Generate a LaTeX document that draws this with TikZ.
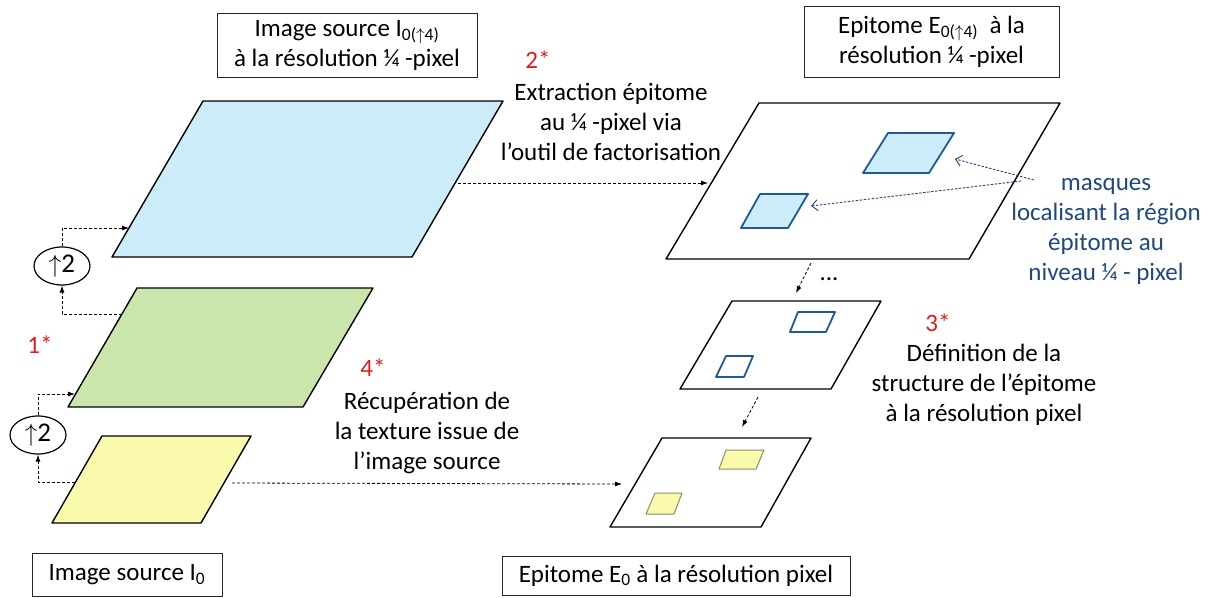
\documentclass[tikz,border=0pt]{standalone}
\usepackage{fontspec}
\setmainfont{Carlito}
\usetikzlibrary{shapes.geometric,arrows.meta}
\definecolor{planeblue}{RGB}{204,236,250}
\definecolor{planegreen}{RGB}{202,230,172}
\definecolor{planeyellow}{RGB}{250,250,172}
\definecolor{maskblue}{RGB}{31,90,150}
\definecolor{textblue}{RGB}{31,73,125}
\definecolor{starred}{RGB}{220,30,30}
\definecolor{sqyellowedge}{RGB}{140,140,100}
\begin{document}
\begin{tikzpicture}[x=1pt,y=-1pt,
  plane/.style={draw=black,line width=1.4pt,line join=round},
  masksq/.style={draw=maskblue,line width=1.8pt,line join=round},
  yelsq/.style={draw=sqyellowedge,fill=planeyellow,line width=1pt,line join=round},
  txt/.style={font=\fontsize{25}{30}\selectfont,align=center,inner sep=0pt},
  titlebox/.style={draw=black!85,line width=1pt,font=\fontsize{25}{30}\selectfont,align=center,inner sep=0pt},
  star/.style={font=\fontsize{25}{30}\selectfont,text=starred,inner sep=0pt},
  updot/.style={draw=black,ellipse,line width=1.2pt,minimum width=56pt,minimum height=38pt,inner sep=0pt,font=\fontsize{27}{30}\selectfont},
  conn/.style={draw=black,line width=0.8pt,dash pattern=on 3pt off 2pt,-{Latex[length=7pt,width=5pt]}},
  maskarrow/.style={draw=textblue,line width=0.9pt,dash pattern=on 2.5pt off 1.5pt,-{Straight Barb[length=6pt,width=11pt]}}]
\useasboundingbox (0,0) rectangle (1206,597);

% planes, left column
\draw[plane,fill=planeblue] (203,101) -- (503,101) -- (412,257) -- (112,257) -- cycle;
\draw[plane,fill=planegreen] (137,288) -- (373,288) -- (303,407) -- (68,407) -- cycle;
\draw[plane,fill=planeyellow] (102,436) -- (251,436) -- (201,523) -- (52,523) -- cycle;

% planes, right column
\draw[plane,fill=white] (759,103) -- (1060,103) -- (969,259) -- (666,259) -- cycle;
\draw[plane,fill=white] (732,301) -- (881,301) -- (831,389) -- (680,389) -- cycle;
\draw[plane,fill=white] (662,438) -- (811,438) -- (761,527) -- (610,527) -- cycle;

% masks
\draw[masksq,fill=planeblue] (888,133) -- (954,133) -- (929,173) -- (863,173) -- cycle;
\draw[masksq,fill=planeblue] (760,194) -- (808,194) -- (788,228) -- (741,228) -- cycle;
\draw[masksq] (798,312) -- (835,312) -- (826,332) -- (790,332) -- cycle;
\draw[masksq] (726,356) -- (753,356) -- (744,377) -- (716,377) -- cycle;
\draw[yelsq] (726,450) -- (764,450) -- (756,469) -- (719,469) -- cycle;
\draw[yelsq] (655,493) -- (682,493) -- (674,514) -- (646,514) -- cycle;

% title boxes
\node[titlebox,minimum width=260pt,minimum height=64pt] (tsrc4) at (347,45) {Image source I\textsubscript{0($\uparrow$4)}\\ à la résolution ¼ -pixel};
\node[titlebox,minimum width=255pt,minimum height=71pt] (tepi4) at (931.5,41.5) {Epitome E\textsubscript{0($\uparrow$4)}\ \ à la\\résolution ¼ -pixel};
\node[titlebox,minimum width=190pt,minimum height=43pt] (tsrc0) at (127,574.5) {Image source I\textsubscript{0}};
\node[titlebox,minimum width=348pt,minimum height=39pt] (tepi0) at (676,575.5) {Epitome E\textsubscript{0} à la résolution pixel};

% upsampling ellipses
\node[updot] (up1) at (38,435) {$\uparrow$2};
\node[updot] (up2) at (62,266) {$\uparrow$2};

% connector end points
\coordinate (yelL) at (75,482);
\coordinate (grnIn) at (75,394);
\coordinate (grnOut) at (122,314);
\coordinate (bluIn) at (129,228);
\coordinate (bluOut) at (458,183);
\coordinate (epiIn) at (708,183);
\coordinate (yelOut) at (232,483);
\coordinate (botIn) at (622,484);
\coordinate (bigOut) at (811,263);
\coordinate (midIn) at (796,293);
\coordinate (midOut) at (758,397);
\coordinate (botTop) at (742,427);
\coordinate (maskSrcA) at (1034,180);
\coordinate (maskSrcB) at (1021,181);
\coordinate (maskA) at (955,159);
\coordinate (maskB) at (811,206);

% connectors
\draw[conn] (yelL) -| (up1.south);
\draw[conn] (up1.north) |- (grnIn);
\draw[conn] (grnOut) -| (up2.south);
\draw[conn] (up2.north) |- (bluIn);
\draw[conn] (bluOut) -- (epiIn);
\draw[conn] (yelOut) -- (botIn);
\draw[conn] (bigOut) -- (midIn);
\draw[conn] (midOut) -- (botTop);
\draw[maskarrow] (maskSrcA) -- (maskA);
\draw[maskarrow] (maskSrcB) -- (maskB);

% labels
\node[star] (s1) at (40,345) {1*};
\node[star] (s2) at (538,60) {2*};
\node[star] (s3) at (938,323) {3*};
\node[star] (s4) at (373,368) {4*};
\node[txt] (lextr) at (611,122) {Extraction épitome\\au ¼ -pixel via\\l’outil de factorisation};
\node[txt] (lrecup) at (427,433) {Récupération de\\la texture issue de\\l’image source};
\node[txt] (ldef) at (984,385) {Définition de la\\structure de l’épitome\\à la résolution pixel};
\node[txt,text=textblue] (lmask) at (1106,231) {masques\\localisant la région\\épitome au\\niveau ¼ - pixel};
\node[txt] (ldots) at (829,279) {...};
\end{tikzpicture}
\end{document}
